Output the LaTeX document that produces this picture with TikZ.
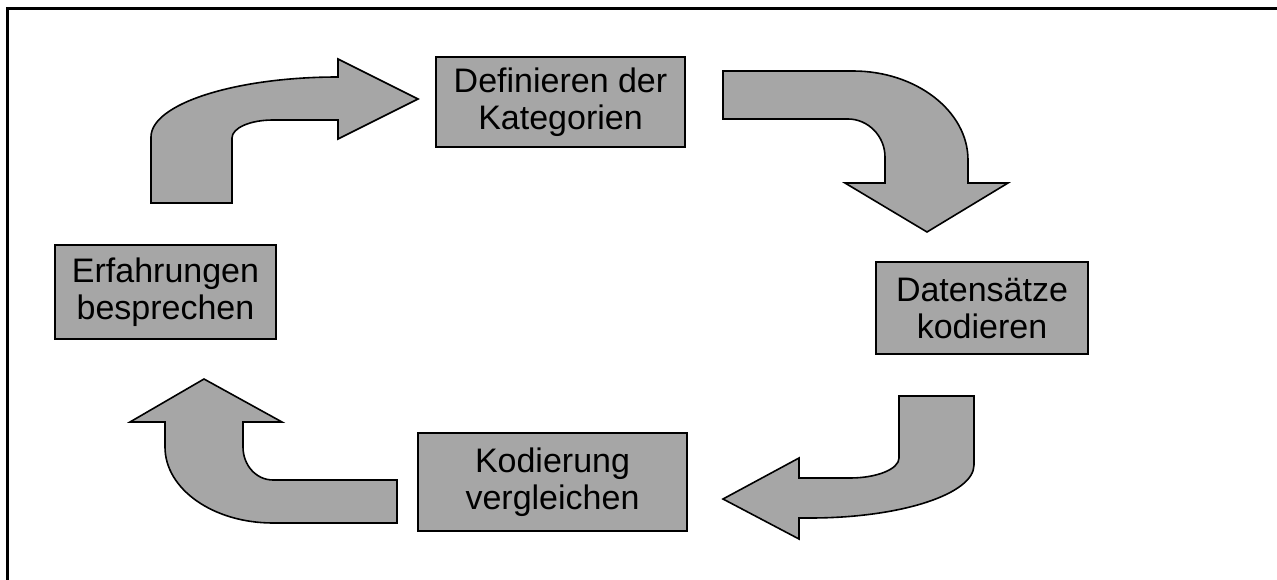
\documentclass[tikz,border=0pt]{standalone}
\usepackage{fontspec}
\setmainfont{Liberation Sans}
\usepackage{tikz}
\usetikzlibrary{positioning,calc}
\definecolor{boxgray}{RGB}{166,166,166}

\begin{document}
\begin{tikzpicture}[x=1pt, y=-1pt,
    stepbox/.style={draw, fill=boxgray, line width=1.8pt, align=center, inner sep=0pt,
        font=\fontsize{34}{37}\selectfont},
    bentarrow/.style={draw, fill=boxgray, line width=1.6pt, line join=miter}]
    \useasboundingbox (0,0) rectangle (1277,580);
    \clip (0,0) rectangle (1277,580);

    % Frame
    \draw[line width=3pt] (7,9) rectangle (1300,600);

    % Boxes
    \node[stepbox, minimum width=249, minimum height=90] (define) at (560.5,102) {Definieren der\\Kategorien};
    \node[stepbox, minimum width=212, minimum height=92] (encode) at (982,308) {Datens\"atze\\kodieren};
    \node[stepbox, minimum width=269, minimum height=98] (compare) at (552.5,482) {Kodierung\\vergleichen};
    \node[stepbox, minimum width=221, minimum height=94] (discuss) at (165.5,292) {Erfahrungen\\besprechen};

    % Arrow up and right
    \draw[bentarrow] (151,203) -- (151,137) .. controls (151,104) and (235,77) .. (338,77)
        -- (338,59) -- (418,99) -- (338,139) -- (338,120) -- (273,120)
        .. controls (250,120) and (232,128) .. (232,138) -- (232,203) -- cycle;

    % Arrow right and down
    \draw[bentarrow] (723,71) -- (853,71) .. controls (916,71) and (968,111) .. (968,160)
        -- (968,183) -- (1008,183) -- (927,232) -- (845,183) -- (885,183) -- (885,157)
        .. controls (885,136) and (868,119) .. (848,119) -- (723,119) -- cycle;

    % Arrow down and left
    \draw[bentarrow] (899,396) -- (974,396) -- (974,465) .. controls (974,494) and (901,518) .. (810,518)
        -- (799,518) -- (799,539) -- (723,499) -- (799,458) -- (799,478) -- (850,478)
        .. controls (877,478) and (899,469) .. (899,458) -- cycle;

    % Arrow left and up
    \draw[bentarrow] (397,523) -- (397,480) -- (273,480) .. controls (256,480) and (243,465) .. (243,447)
        -- (243,422) -- (282,422) -- (204,379) -- (130,422) -- (165,422) -- (165,447)
        .. controls (165,489) and (213,523) .. (273,523) -- cycle;
\end{tikzpicture}
\end{document}
